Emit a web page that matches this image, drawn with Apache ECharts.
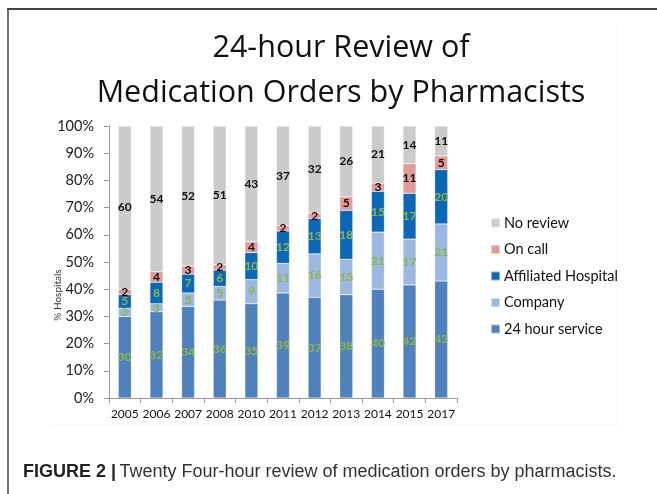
<!DOCTYPE html>
<html><head><meta charset="utf-8">
<script src="https://cdn.jsdelivr.net/npm/echarts@6/dist/echarts.min.js"></script>
<style>html,body{margin:0;padding:0;background:#fff}#c{width:657px;height:494px}</style>
</head><body><div id="c"></div>
<script>
var years = ['2005','2006','2007','2008','2010','2011','2012','2013','2014','2015','2017'];
var service24 = [30,32,34,36,35,39,37,38,40,42,43];
var company = [3,3,5,5,9,11,16,13,21,17,21];
var affiliated = [5,8,7,6,10,12,13,18,15,17,20];
var onCall = [2,4,3,2,4,2,2,5,3,11,5];
var noReview = [60,54,52,51,43,37,32,26,21,14,11];
var yTicks = ['0%','10%','20%','30%','40%','50%','60%','70%','80%','90%','100%'];

var raw = [service24, company, affiliated, onCall, noReview];
var names = ['24 hour service','Company','Affiliated Hospital','On call','No review'];
var colors = ['#4f81bd','#9bb8e0','#0b67b8','#e39a9b','#cbcbcb'];
var labelColors = ['#8fb83e','#8fb83e','#8fb83e','#111','#111'];
var totals = years.map(function(_, i){ return raw.reduce(function(s, a){ return s + a[i]; }, 0); });

var series = raw.map(function(arr, k){
  return {
    name: names[k], type: 'bar', stack: 'all', barWidth: 13,
    itemStyle: { color: colors[k], borderColor: 'rgba(255,255,255,0.5)', borderWidth: 0.5 },
    label: { show: true, position: 'inside', fontFamily: 'Lato, sans-serif', fontWeight: 'bold', fontSize: 12,
      color: labelColors[k], formatter: function(p){ return arr[p.dataIndex]; } },
    data: arr.map(function(v, i){ return v / totals[i] * 100; })
  };
});

var chart = echarts.init(document.getElementById('c'), null, {renderer:'canvas'});
chart.setOption({
  animation: false,
  title: { text: '24-hour Review of\nMedication Orders by Pharmacists', left: 336, textAlign: 'center', top: 21,
    textStyle: { fontFamily: '"Open Sans", sans-serif', fontWeight: 'normal', fontSize: 30.5, lineHeight: 45, color: '#111' } },
  grid: { left: 109, right: 200, top: 126, bottom: 96 },
  legend: { orient: 'vertical', left: 485, top: 210, itemWidth: 9, itemHeight: 9, itemGap: 10.5,
    icon: 'rect', data: ['No review','On call','Affiliated Hospital','Company','24 hour service'],
    textStyle: { fontFamily: 'Lato, sans-serif', fontSize: 14.5, lineHeight: 16, color: '#111', padding: [0,0,0,-1] } },
  xAxis: { type: 'category', data: years,
    axisLine: { lineStyle: { color: '#999' } },
    axisTick: { show: true, length: 5, lineStyle: { color: '#999' } },
    axisLabel: { interval: 0, margin: 10, fontFamily: 'Lato, sans-serif', fontSize: 12, color: '#111' } },
  yAxis: { type: 'value', min: 0, max: 100, interval: 10,
    axisLine: { show: true, lineStyle: { color: '#999' } },
    axisTick: { show: true, inside: false, length: 5, lineStyle: { color: '#999' } },
    splitLine: { show: false },
    axisLabel: { margin: 15, fontFamily: 'Lato, sans-serif', fontSize: 14.5, color: '#222',
      formatter: function(v){ return yTicks[Math.round(v/10)]; } } },
  series: series,
  graphic: [
    { type: 'line', shape: { x1: 7, y1: 9, x2: 657, y2: 9 }, style: { stroke: '#444', lineWidth: 2 } },
    { type: 'line', shape: { x1: 8, y1: 9, x2: 8, y2: 494 }, style: { stroke: '#444', lineWidth: 1.5 } },
    { type: 'line', shape: { x1: 617, y1: 25, x2: 617, y2: 425 }, style: { stroke: '#f2f2f2', lineWidth: 1 } },
    { type: 'line', shape: { x1: 50, y1: 425, x2: 617, y2: 425 }, style: { stroke: '#f2f2f2', lineWidth: 1 } },
    { type: 'text', x: 58, y: 295, rotation: Math.PI/2,
      style: { text: '% Hospitals', fontFamily: 'Lato, sans-serif', fontSize: 10, fill: '#333', align: 'center', verticalAlign: 'middle' } },
    { type: 'text', x: 23, y: 472,
      style: { rich: { b: { fontFamily: '"Liberation Sans", sans-serif', fontWeight: 'bold', fontSize: 18, fill: '#222' },
                       n: { fontFamily: '"Liberation Sans", sans-serif', fontSize: 18, fill: '#333' } },
        text: '{b|FIGURE 2 |} {n|Twenty Four-hour review of medication orders by pharmacists.}', verticalAlign: 'middle' } }
  ]
});
</script></body></html>
